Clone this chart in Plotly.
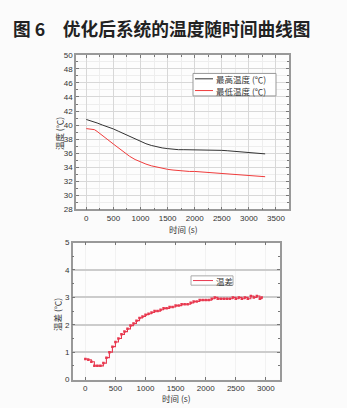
import plotly.graph_objects as go

W, H = 347, 408

# ---- data: top chart ----
t_max = [0, 100, 200, 300, 400, 500, 600, 700, 800, 900, 1000, 1100, 1200, 1300, 1400, 1500,
         1600, 1700, 1800, 2000, 2200, 2400, 2500, 2600, 2800, 3000, 3100, 3200, 3300]
v_max = [40.8, 40.6, 40.3, 40.0, 39.75, 39.45, 39.1, 38.75, 38.35, 38.0, 37.65, 37.35, 37.1, 36.9,
         36.75, 36.65, 36.55, 36.5, 36.5, 36.5, 36.45, 36.4, 36.4, 36.35, 36.2, 36.1, 36.0, 35.95, 35.9]
t_min = [0, 100, 150, 200, 300, 400, 500, 600, 700, 800, 900, 1000, 1100, 1200, 1300, 1400, 1500,
         1600, 1700, 1800, 1900, 2000, 2200, 2400, 2500, 2600, 2800, 3000, 3200, 3300]
v_min = [39.5, 39.45, 39.35, 39.1, 38.55, 37.9, 37.3, 36.7, 36.1, 35.55, 35.1, 34.75, 34.45, 34.2,
         34.0, 33.8, 33.7, 33.6, 33.5, 33.45, 33.4, 33.4, 33.3, 33.15, 33.1, 33.05, 32.9, 32.8, 32.7, 32.65]

# ---- data: bottom chart ----
t_diff = [0, 50, 100, 150, 200, 250, 300, 350, 400, 450, 500, 550, 600, 650, 700, 750, 800, 850,
          900, 950, 1000, 1050, 1100, 1150, 1200, 1250, 1300, 1350, 1400, 1450, 1500, 1550, 1600,
          1650, 1700, 1750, 1800, 1850, 1900, 1950, 2000, 2050, 2100, 2150, 2200, 2250, 2300, 2350,
          2400, 2450, 2500, 2550, 2600, 2650, 2700, 2750, 2800, 2850, 2900, 2930]
v_diff = [0.75, 0.72, 0.65, 0.5, 0.5, 0.5, 0.6, 0.8, 1.0, 1.2, 1.37, 1.5, 1.65, 1.75, 1.85, 1.97,
          2.05, 2.15, 2.25, 2.3, 2.37, 2.4, 2.45, 2.5, 2.5, 2.55, 2.6, 2.6, 2.65, 2.65, 2.7, 2.7,
          2.75, 2.75, 2.75, 2.8, 2.85, 2.85, 2.9, 2.9, 2.9, 2.9, 2.95, 3.0, 2.95, 2.95, 2.95, 2.95,
          2.95, 3.0, 2.95, 3.0, 2.95, 3.0, 2.95, 3.05, 3.0, 3.05, 2.95, 3.0]

title_text = "图 6　优化后系统的温度随时间曲线图"
name_max = "最高温度 (℃)"
name_min = "最低温度 (℃)"
name_diff = "温差"
ytitle_top = "温度 (℃)"
ytitle_bot = "温差 (℃)"
xtitle = "时间 (s)"

FONT = "Noto Sans CJK SC, Noto Sans, sans-serif"
RED = "#e8384f"
BLACK_LINE = "#333333"
RED_TOP = "#f03c3c"

fig = go.Figure()
fig.add_trace(go.Scatter(x=t_max, y=v_max, mode="lines", name=name_max,
                         line=dict(color=BLACK_LINE, width=1), xaxis="x", yaxis="y"))
fig.add_trace(go.Scatter(x=t_min, y=v_min, mode="lines", name=name_min,
                         line=dict(color=RED_TOP, width=1), xaxis="x", yaxis="y"))
fig.add_trace(go.Scatter(x=t_diff, y=v_diff, mode="lines+markers", name=name_diff,
                         line=dict(color=RED, width=1.1, shape="hv"),
                         marker=dict(symbol="square", size=2.5, color=RED),
                         xaxis="x2", yaxis="y2"))

def px_x(p):
    return p / W

def px_y(p):
    return 1 - p / H

tick_font = dict(family="Liberation Sans Narrow, Liberation Sans, Arial, sans-serif", size=8, color="#333333")

common_axis = dict(showline=True, linecolor="#999999", linewidth=1.5, mirror="ticks",
                   ticks="inside", ticklen=3, tickcolor="#777777", tickfont=tick_font,
                   zeroline=False)

annotations = [dict(text="<b>" + title_text + "</b>", x=px_x(11), y=px_y(25),
                    xref="paper", yref="paper", xanchor="left", yanchor="middle",
                    showarrow=False, font=dict(family=FONT, size=17.7, color="#222222"))]

def ann(text, x, y, angle=0, size=8.5, color="#333333", xanchor="center", yanchor="middle"):
    annotations.append(dict(text=text, x=px_x(x), y=px_y(y), xref="paper", yref="paper",
                            xanchor=xanchor, yanchor=yanchor, showarrow=False, textangle=angle,
                            borderpad=0, font=dict(family=FONT, size=size, color=color)))

# axis titles
ann(xtitle, 183, 222.5, yanchor="top")
ann(ytitle_top, 59, 133, angle=-90)
ann(xtitle, 176, 395.5, yanchor="top")
ann(ytitle_bot, 57, 318, angle=-90)

shapes = []
# manual legend top
shapes.append(dict(type="rect", xref="paper", yref="paper", x0=px_x(193), x1=px_x(276),
                   y0=px_y(94), y1=px_y(71), line=dict(color="#999999", width=1),
                   fillcolor="rgba(255,255,255,0.95)", layer="above"))
shapes.append(dict(type="line", xref="paper", yref="paper", x0=px_x(195), x1=px_x(213),
                   y0=px_y(76.5), y1=px_y(76.5), line=dict(color=BLACK_LINE, width=1)))
shapes.append(dict(type="line", xref="paper", yref="paper", x0=px_x(195), x1=px_x(213),
                   y0=px_y(88.5), y1=px_y(88.5), line=dict(color=RED_TOP, width=1)))
ann(name_max, 215, 76.5, size=8.5, xanchor="left")
ann(name_min, 215, 88.5, size=8.5, xanchor="left")
# manual legend bottom
shapes.append(dict(type="rect", xref="paper", yref="paper", x0=px_x(191), x1=px_x(233),
                   y0=px_y(287.5), y1=px_y(278), line=dict(color="#aaaaaa", width=1),
                   fillcolor="rgba(255,255,255,0.95)", layer="above"))
shapes.append(dict(type="line", xref="paper", yref="paper", x0=px_x(193), x1=px_x(213),
                   y0=px_y(282.8), y1=px_y(282.8), line=dict(color=RED, width=1)))
ann(name_diff, 215, 282.8, size=8.5, xanchor="left")

fig.update_layout(
    width=W, height=H, margin=dict(l=0, r=0, t=0, b=0),
    paper_bgcolor="#fbfbfb", plot_bgcolor="#fdfdfd",
    font=dict(family=FONT),
    showlegend=False,
    xaxis=dict(domain=[px_x(76), px_x(289)], range=[-190, 3740], anchor="y",
               tickvals=[0, 500, 1000, 1500, 2000, 2500, 3000, 3500],
               showgrid=True, gridcolor="#d8d8d8", gridwidth=1,
               minor=dict(dtick=250, showgrid=True, gridcolor="#eeeeee", ticks="inside", ticklen=2),
               **common_axis),
    yaxis=dict(domain=[px_y(210), px_y(52)], range=[28, 50], anchor="x",
               dtick=2, showgrid=True, gridcolor="#d8d8d8", gridwidth=1,
               minor=dict(dtick=1, showgrid=True, gridcolor="#eeeeee", ticks="inside", ticklen=2),
               **common_axis),
    xaxis2=dict(domain=[px_x(72.7), px_x(280)], range=[-210, 3235], anchor="y2",
                tickvals=[0, 500, 1000, 1500, 2000, 2500, 3000],
                showgrid=True, gridcolor="#f2f2f2", gridwidth=1,
                **common_axis),
    yaxis2=dict(domain=[px_y(384), px_y(244)], range=[0, 5], anchor="x2",
                dtick=1, showgrid=True, gridcolor="#cccccc", gridwidth=2,
                minor=dict(dtick=0.5, ticks="inside", ticklen=2),
                **common_axis),
    shapes=shapes,
    annotations=annotations,
)

fig.write_html("out.html")
